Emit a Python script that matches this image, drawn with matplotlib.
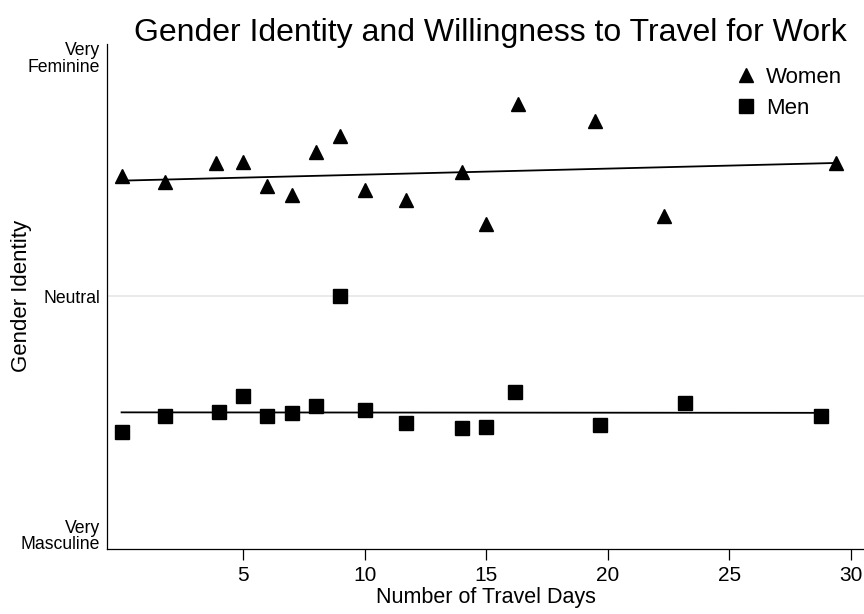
import matplotlib
matplotlib.use("Agg")
import matplotlib.pyplot as plt
from matplotlib.lines import Line2D

plt.rcParams['font.family'] = ['Liberation Sans', 'DejaVu Sans']

# ---- data ----
women_days = [0.0, 1.8, 3.9, 5.0, 6.0, 7.0, 8.0, 9.0, 10.0, 11.7, 14.0, 15.0, 16.3, 19.5, 22.3, 29.4]
women_identity = [75.2, 74.0, 77.8, 78.2, 73.1, 71.1, 80.1, 83.5, 72.3, 70.1, 76.1, 65.2, 90.2, 86.7, 66.9, 77.8]

men_days = [0.0, 1.8, 4.0, 5.0, 6.0, 7.0, 8.0, 9.0, 10.0, 11.7, 14.0, 15.0, 16.2, 19.7, 23.2, 28.8]
men_identity = [21.5, 25.0, 25.7, 29.2, 25.0, 25.5, 27.0, 50.0, 26.1, 23.4, 22.5, 22.7, 29.9, 23.0, 27.6, 25.0]

# fitted-line values at the first and last x of each group
women_fit = [74.2, 77.9]
men_fit = [25.7, 25.6]

x_ticks = [5, 10, 15, 20, 25, 30]
y_ticks = [0, 50, 100]
y_ticklabels = ["Very\nMasculine", "Neutral", "Very\nFeminine"]

title = "Gender Identity and Willingness to Travel for Work"
xlabel = "Number of Travel Days"
ylabel = "Gender Identity"

# ---- figure ----
W, H = 864, 614
fig = plt.figure(figsize=(W / 100, H / 100), dpi=100)
ax = fig.add_axes([107 / W, 65 / H, 1 - 107 / W, (549 - 44) / H])

ax.axhline(50, color="#e8e8e8", lw=1.3, zorder=0)

ax.plot([min(women_days), max(women_days)], women_fit, color="black", lw=1.3, zorder=2)
ax.plot([min(men_days), max(men_days)], men_fit, color="black", lw=1.3, zorder=2)

ax.plot(women_days, women_identity, linestyle="none", marker="^", ms=10, color="black", zorder=3)
ax.plot(men_days, men_identity, linestyle="none", marker="s", ms=9.4, color="black", zorder=3)

ax.set_xlim(-0.6, 30.55)
ax.set_ylim(-2.9, 102.8)

ax.spines["top"].set_visible(False)
ax.spines["right"].set_visible(False)
ax.spines["left"].set_linewidth(0.9)
ax.spines["bottom"].set_linewidth(0.9)

ax.set_xticks(x_ticks)
ax.set_xticklabels([str(t) for t in x_ticks], fontsize=15)
ax.tick_params(axis="x", length=8, width=0.9, pad=4)
ax.set_yticks(y_ticks)
ax.set_yticklabels(y_ticklabels, fontsize=12.7, linespacing=0.95)
ax.tick_params(axis="y", length=0, pad=5)

ax.set_xlabel(xlabel, fontsize=15.5, labelpad=2)
fig.text(22 / W, 1 - 296 / H, ylabel, rotation=90, fontsize=16, ha="center", va="center")
fig.text(490 / W, 1 - 41 / H, title, fontsize=23, ha="center", va="baseline")

handles = [
    Line2D([], [], linestyle="none", marker="^", ms=10, color="black"),
    Line2D([], [], linestyle="none", marker="s", ms=9.4, color="black"),
]
fig.legend(handles, ["Women", "Men"], loc="upper left", bbox_to_anchor=(737 / W, 1 - 67 / H),
           frameon=False, fontsize=16, handlelength=0.8, handletextpad=0.5,
           labelspacing=0.45, borderaxespad=0, borderpad=0)

fig.savefig("out.png", dpi=100)
